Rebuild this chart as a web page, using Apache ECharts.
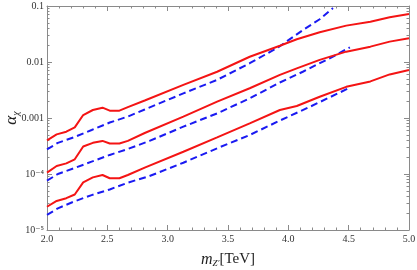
<!DOCTYPE html>
<html>
<head>
<meta charset="utf-8">
<script src="https://cdn.jsdelivr.net/npm/echarts@6/dist/echarts.min.js"></script>
<style>html,body{margin:0;padding:0;background:#fff}#c{width:417px;height:270px}</style>
</head>
<body>
<div id="c"></div>
<script>
// ---- data ----
const redX = [2.0, 2.08, 2.16, 2.23, 2.30, 2.38, 2.46, 2.52, 2.60, 2.67, 2.81, 3.13, 3.41, 3.68, 3.93, 4.07, 4.26, 4.48, 4.68, 4.84, 5.0];
const redTop = [4.0e-4, 5.1e-4, 5.7e-4, 6.8e-4, 1.13e-3, 1.39e-3, 1.53e-3, 1.35e-3, 1.35e-3, 1.56e-3, 2.05e-3, 3.9e-3, 6.7e-3, 0.0124, 0.0195, 0.0255, 0.034, 0.0446, 0.0525, 0.063, 0.072];
const redMid = [1.06e-4, 1.39e-4, 1.55e-4, 1.83e-4, 3.1e-4, 3.6e-4, 3.9e-4, 3.5e-4, 3.5e-4, 3.9e-4, 5.4e-4, 1.06e-3, 1.96e-3, 3.4e-3, 5.9e-3, 7.7e-3, 0.0109, 0.0153, 0.0188, 0.0231, 0.0265];
const redLow = [2.6e-5, 3.3e-5, 3.7e-5, 4.3e-5, 7.1e-5, 8.7e-5, 9.6e-5, 8.4e-5, 8.4e-5, 9.6e-5, 1.3e-4, 2.5e-4, 4.5e-4, 8.0e-4, 1.39e-3, 1.64e-3, 2.4e-3, 3.6e-3, 4.5e-3, 6.0e-3, 7.2e-3];

const blueTopX = [2.0, 2.09, 2.22, 2.37, 2.52, 2.67, 2.81, 3.13, 3.41, 3.68, 3.92, 4.12, 4.26, 4.37];
const blueTop = [2.75e-4, 3.6e-4, 4.5e-4, 6.1e-4, 8.3e-4, 1.06e-3, 1.42e-3, 2.75e-3, 4.8e-3, 9.5e-3, 0.0185, 0.037, 0.058, 0.092];
const blueMidX = [2.0, 2.09, 2.22, 2.37, 2.52, 2.67, 2.85, 3.13, 3.41, 3.68, 3.93, 4.12, 4.37, 4.51];
const blueMid = [7.6e-5, 1.0e-4, 1.26e-4, 1.66e-4, 2.19e-4, 2.8e-4, 3.9e-4, 7.0e-4, 1.21e-3, 2.24e-3, 4.3e-3, 6.7e-3, 0.0125, 0.0183];
const blueLowX = [2.0, 2.09, 2.22, 2.37, 2.52, 2.67, 2.85, 3.13, 3.41, 3.68, 3.93, 4.18, 4.5];
const blueLow = [1.86e-5, 2.44e-5, 3.2e-5, 4.2e-5, 5.3e-5, 7.0e-5, 9.2e-5, 1.59e-4, 2.88e-4, 4.97e-4, 9.0e-4, 1.59e-3, 3.4e-3];

const yTickLabels = ['10\u207B\u2075', '10\u207B\u2074', '0.001', '0.01', '0.1'];
const yMinorMultipliers = [2, 3, 4, 5, 6, 7, 8, 9];
const xTickLabels = ['2.0', '2.5', '3.0', '3.5', '4.0', '4.5', '5.0'];

// ---- build ----
const zip = (xs, ys) => xs.map((x, i) => [x, ys[i]]);
// minor tick positions expressed as decade exponents (for linear helper axes)
const yMinorExp = [];
for (let e = -5; e < -1; e++) yMinorMultipliers.forEach(m => yMinorExp.push(e + Math.log10(m)));
const yMajorExp = [-5, -4, -3, -2, -1];

const frame = '#8a8a8a';
const serif = 'Liberation Serif, DejaVu Serif, serif';
const RED = '#f41414', BLUE = '#1a1af2';

function yLabel(v) {
  const e = Math.round(Math.log10(v));
  return yTickLabels[e + 5] || '';
}

const chart = echarts.init(document.getElementById('c'), null, { renderer: 'canvas' });
const lineStyleRed = { color: RED, width: 2 };
const lineStyleBlue = { color: BLUE, width: 2, type: [7, 4] };
const mk = (data, ls) => ({ type: 'line', data, showSymbol: false, symbol: 'none', lineStyle: ls, itemStyle: { color: ls.color }, silent: true, animation: false, clip: true });

const tickAxis = (pos, vals, len) => ({
  type: 'value', min: -5, max: -1, position: pos,
  splitLine: { show: false },
  axisLine: { show: false },
  axisLabel: { show: false },
  axisTick: { show: true, inside: true, length: len, customValues: vals, lineStyle: { color: frame } }
});

chart.setOption({
  animation: false,
  grid: { left: 47, right: 8, top: 6, bottom: 40, outerBoundsMode: 'none', containLabel: false },
  xAxis: [
    {
      type: 'value', min: 2, max: 5, interval: 0.5, position: 'bottom',
      name: '{m|m}{s|Z\u2032}{t|[TeV]}', nameLocation: 'middle', nameGap: 21, nameMoveOverlap: false,
      nameTextStyle: { rich: {
        m: { fontFamily: serif, fontStyle: 'italic', fontSize: 16, color: '#222' },
        s: { fontFamily: serif, fontStyle: 'italic', fontSize: 9, color: '#222', padding: [8, 0, 0, 0] },
        t: { fontFamily: serif, fontSize: 15, color: '#222' } } },
      splitLine: { show: false },
      axisLine: { show: true, onZero: false, lineStyle: { color: frame } },
      axisTick: { show: true, inside: true, length: 5, lineStyle: { color: frame } },
      minorTick: { show: true, splitNumber: 5, length: 2.5, lineStyle: { color: frame } },
      axisLabel: { fontFamily: serif, fontSize: 10, color: '#333', margin: 4,
        formatter: v => xTickLabels[Math.round((v - 2) / 0.5)] || '' }
    },
    {
      type: 'value', min: 2, max: 5, interval: 0.5, position: 'top',
      splitLine: { show: false },
      axisLine: { show: true, onZero: false, lineStyle: { color: frame } },
      axisTick: { show: true, inside: true, length: 5, lineStyle: { color: frame } },
      minorTick: { show: true, splitNumber: 5, length: 2.5, lineStyle: { color: frame } },
      axisLabel: { show: false }
    }
  ],
  yAxis: [
    {
      type: 'log', logBase: 10, min: 1e-5, max: 0.1, position: 'left',
      name: '{a|\u03B1}{c|\u03C7}', nameLocation: 'middle', nameGap: 26, nameRotate: 90, nameMoveOverlap: false,
      nameTextStyle: { rich: {
        a: { fontFamily: serif, fontStyle: 'italic', fontSize: 17, color: '#222' },
        c: { fontFamily: serif, fontStyle: 'italic', fontSize: 10, color: '#222', padding: [8, 0, 0, 0] } } },
      splitLine: { show: false },
      axisLine: { show: true, lineStyle: { color: frame } },
      axisTick: { show: false },
      axisLabel: { fontFamily: serif, fontSize: 10, color: '#333', margin: 3, formatter: yLabel }
    },
    tickAxis('left', yMajorExp, 5),
    tickAxis('left', yMinorExp, 2.5),
    Object.assign(tickAxis('right', yMajorExp, 5), { axisLine: { show: true, lineStyle: { color: frame } } }),
    tickAxis('right', yMinorExp, 2.5)
  ],
  series: [
    mk(zip(blueTopX, blueTop), lineStyleBlue),
    mk(zip(blueMidX, blueMid), lineStyleBlue),
    mk(zip(blueLowX, blueLow), lineStyleBlue),
    mk(zip(redX, redTop), lineStyleRed),
    mk(zip(redX, redMid), lineStyleRed),
    mk(zip(redX, redLow), lineStyleRed)
  ]
});
</script>
</body>
</html>
